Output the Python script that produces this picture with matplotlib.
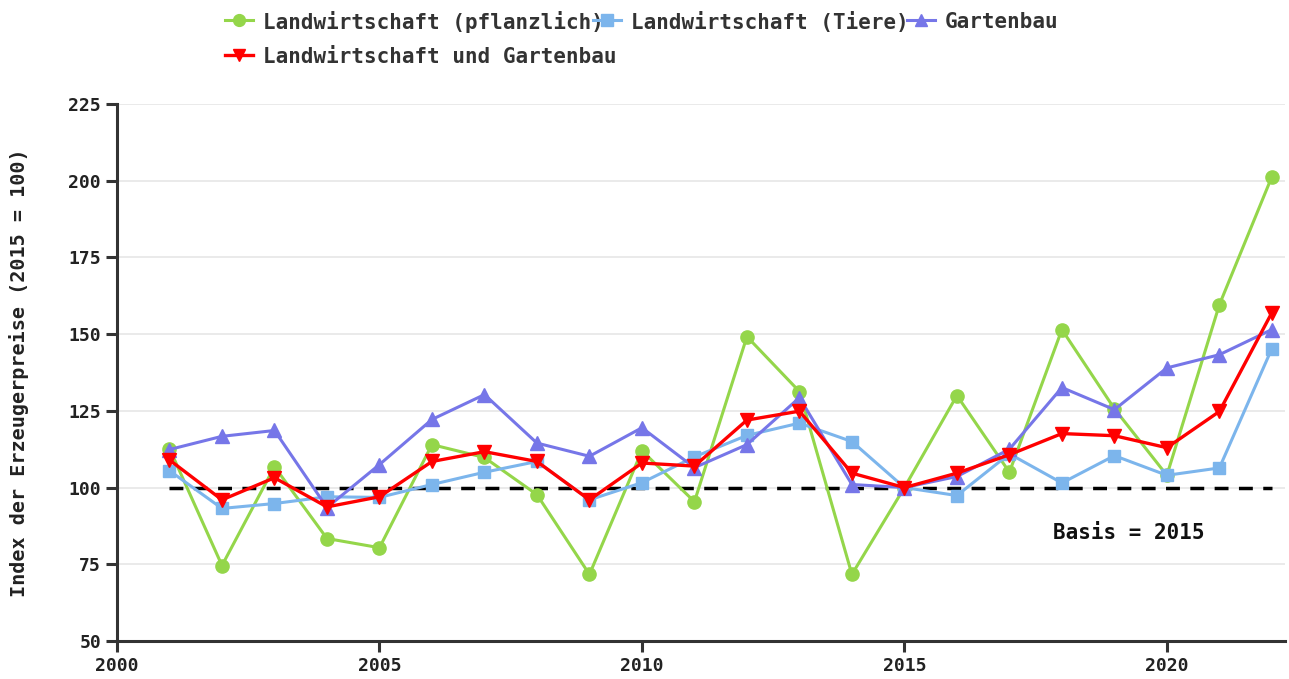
import matplotlib
matplotlib.use("Agg")
import matplotlib.pyplot as plt
from matplotlib.lines import Line2D

years = list(range(2001, 2023))
pflanzlich = [112.7, 74.6, 106.8, 83.4, 80.4, 114.0, 109.8, 97.7, 71.7, 112.0, 95.4,
              149.2, 131.3, 71.7, 100.0, 130.0, 105.0, 151.5, 125.7, 104.0, 159.6, 201.3]
tiere = [105.5, 93.2, 94.8, 97.0, 96.8, 101.0, 105.0, 108.5, 96.0, 101.6, 110.0,
         117.0, 121.0, 115.0, 100.0, 97.4, 111.0, 101.5, 110.4, 104.0, 106.4, 145.3]
gartenbau = [112.4, 116.7, 118.6, 93.5, 107.5, 122.2, 130.3, 114.5, 110.2, 119.5, 106.5,
             114.0, 129.3, 101.0, 100.0, 103.6, 112.5, 132.6, 125.4, 139.0, 143.3, 151.5]
gesamt = [109.0, 96.0, 103.2, 93.7, 97.0, 108.5, 111.7, 108.5, 96.0, 108.0, 107.0,
          122.0, 124.9, 104.7, 100.0, 104.7, 110.7, 117.6, 116.9, 113.0, 124.8, 157.0]
series_names = ["Landwirtschaft (pflanzlich)", "Landwirtschaft (Tiere)", "Gartenbau",
                "Landwirtschaft und Gartenbau"]
basis_value = 100
basis_label = "Basis = 2015"
y_label = "Index der Erzeugerpreise (2015 = 100)"
yticks = [50, 75, 100, 125, 150, 175, 200, 225]
xticks = [2000, 2005, 2010, 2015, 2020]

plt.rcParams['font.family'] = ['DejaVu Sans Mono']
plt.rcParams['font.weight'] = 'bold'

W, H = 1289, 679
fig = plt.figure(figsize=(W / 100, H / 100), dpi=100)
ax = fig.add_axes([117 / W, (H - 641) / H, (1285 - 117) / W, (641 - 104) / H])

colors = ["#94d64a", "#7cb5ec", "#7676e8", "#ff0000"]
styles = [dict(marker="o", ms=9.5, lw=2.2), dict(marker="s", ms=9, lw=2.2),
          dict(marker="^", ms=9.5, lw=2.2), dict(marker="v", ms=9.5, lw=2.4)]
data = [pflanzlich, tiere, gartenbau, gesamt]
for vals, c, st in zip(data, colors, styles):
    ax.plot(years, vals, color=c, zorder=3, **st)

ax.plot([years[0], years[-1]], [basis_value, basis_value], color="black", lw=2.5,
        ls=(0, (4, 3)), zorder=2)
ax.text(2019.28, 85.3, basis_label, ha="center", va="center", fontsize=15,
        fontweight="bold", color="#111111")

ax.set_xlim(2000, 2022.25)
ax.set_ylim(50, 225)
ax.set_yticks(yticks)
ax.set_xticks(xticks)
ax.grid(axis="y", color="#e6e6e6", lw=1.2, zorder=0)
ax.set_axisbelow(True)
for s in ["top", "right"]:
    ax.spines[s].set_visible(False)
for s in ["left", "bottom"]:
    ax.spines[s].set_color("#333333")
    ax.spines[s].set_linewidth(2.2)
ax.tick_params(axis="both", direction="out", length=8, width=2.2, color="#333333",
               labelsize=13, labelcolor="#222222")
ax.set_ylabel(y_label, fontsize=14.5, fontweight="bold", color="#222222")
ax.yaxis.set_label_coords(-0.075, 0.5)

# legend, laid out like the reference (row-wise, fixed item spacing)
leg_pos = [(239, 20), (607, 20), (921, 20), (239, 55)]
for (px, py), name, c, st in zip(leg_pos, series_names, colors, styles):
    fy = 1 - py / H
    fig.text((px + 24) / W, fy, name, fontsize=15, fontweight="bold", color="#333333",
             ha="left", va="center_baseline", zorder=1)
    fig.add_artist(Line2D([(px - 14) / W, (px + 14) / W], [fy, fy], color=c,
                          lw=st["lw"], zorder=5, transform=fig.transFigure))
    fig.add_artist(Line2D([px / W], [fy], color=c, marker=st["marker"],
                          ms=st["ms"] - 1, lw=0, zorder=5, transform=fig.transFigure))

fig.savefig("out.png", dpi=100)
